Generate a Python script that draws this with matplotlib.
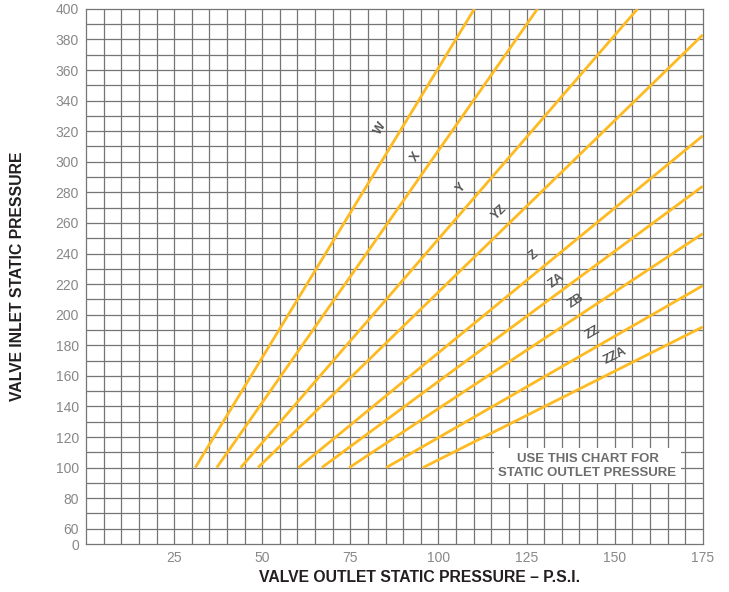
import numpy as np
import matplotlib.pyplot as plt

plt.rcParams['font.family'] = ['Liberation Sans', 'DejaVu Sans']

# valve curves: outlet pressure where each line starts (inlet = 100) and end point
names = ['W', 'X', 'Y', 'YZ', 'Z', 'ZA', 'ZB', 'ZZ', 'ZZA']
start_outlet = [31.0, 37.1, 43.9, 48.8, 60.3, 66.9, 74.7, 85.2, 95.6]
start_inlet = [100, 100, 100, 100, 100, 100, 100, 100, 100]
end_outlet = [110.2, 128.1, 156.5, 175, 175, 175, 175, 175, 175]
end_inlet = [400, 400, 400, 383, 317, 284, 253, 219, 192]

# label positions along the lines
label_x = [83.5, 93.5, 106.5, 117.3, 127.0, 133.5, 138.9, 143.8, 150.0]
label_y = [322, 303, 283, 267, 239, 222, 209, 188, 173]

x_ticks = [25, 50, 75, 100, 125, 150, 175]
y_ticks = [50] + list(range(60, 401, 20))
y_tick_labels = ['0'] + [str(v) for v in range(60, 401, 20)]

fig = plt.figure(figsize=(7.29, 5.92), dpi=100)
ax = fig.add_axes([0.118, 0.081, 0.846, 0.904])

ax.set_xlim(0, 175)
ax.set_ylim(50, 400)

grid_col = '#757575'
for gx in np.arange(5, 175, 5):
    ax.axvline(gx, color=grid_col, lw=0.9, zorder=1)
for gy in np.arange(60, 400, 10):
    ax.axhline(gy, color=grid_col, lw=0.9, zorder=1)
for s in ax.spines.values():
    s.set_color(grid_col)
    s.set_linewidth(0.9)

line_col = '#FDBA21'
for i in range(len(names)):
    ax.plot([start_outlet[i], end_outlet[i]], [start_inlet[i], end_inlet[i]],
            color=line_col, lw=2.0, solid_capstyle='butt', zorder=3)

for i in range(len(names)):
    p1 = ax.transData.transform((start_outlet[i], start_inlet[i]))
    p2 = ax.transData.transform((end_outlet[i], end_inlet[i]))
    ang = np.degrees(np.arctan2(p2[1] - p1[1], p2[0] - p1[0]))
    ax.text(label_x[i], label_y[i], names[i], rotation=ang, ha='center', va='center',
            fontsize=9, fontweight='bold', color='#555555', rotation_mode='anchor', zorder=4)

ax.text(142.3, 101.2, 'USE THIS CHART FOR\nSTATIC OUTLET PRESSURE', ha='center', va='center',
        fontsize=9.5, fontweight='bold', color='#6d6d6d', linespacing=1.2, zorder=5,
        bbox=dict(boxstyle='square,pad=0.35', fc='white', ec='none'))

ax.set_xticks(x_ticks)
ax.set_yticks(y_ticks)
ax.set_yticklabels(y_tick_labels)
ax.tick_params(length=0, labelsize=10, labelcolor='#888888', pad=5)

fig.text(420 / 729, 1 - 578 / 592, 'VALVE OUTLET STATIC PRESSURE – P.S.I.', ha='center', va='center',
         fontsize=11.3, fontweight='bold', color='#231f20')
fig.text(18 / 729, 1 - 276 / 592, 'VALVE INLET STATIC PRESSURE', ha='center', va='center',
         rotation=90, fontsize=11.3, fontweight='bold', color='#231f20')

fig.savefig('out.png', dpi=100)
